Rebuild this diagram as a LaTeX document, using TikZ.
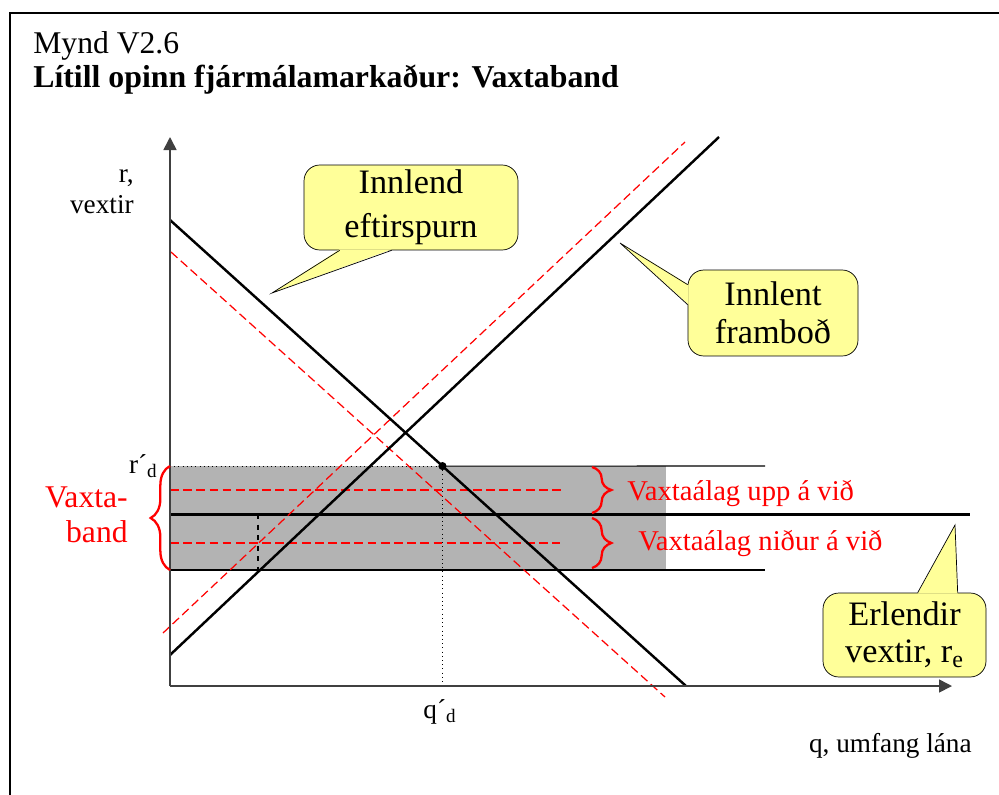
\documentclass[tikz,border=0pt]{standalone}
\usepackage{fontspec}
\setmainfont{Liberation Serif}
\usetikzlibrary{arrows.meta, positioning, calc, decorations.pathreplacing}
\definecolor{callfill}{RGB}{255,255,153}
\definecolor{axisgray}{RGB}{64,64,64}
\definecolor{bandgray}{RGB}{179,179,179}

\begin{document}
\begin{tikzpicture}[
  x=0.02cm, y=-0.02cm,
  axis/.style={draw=axisgray, line width=0.9pt, -{Triangle[length=7.4pt,width=7.4pt]}},
  curve/.style={line width=1.4pt},
  reddash/.style={red, line width=0.7pt, dash pattern=on 5pt off 2.5pt},
  callout/.style={draw, fill=callfill, rounded corners=9pt, align=center, inner sep=2pt},
  lbl/.style={font=\fontsize{15.5}{18}\selectfont, inner sep=0pt},
  redlbl/.style={red, font=\fontsize{16.3}{19}\selectfont, inner sep=0pt},
  redbrace/.style={red, line width=1.3pt, decorate, decoration={brace, amplitude=11pt}}
]
\useasboundingbox (0,0) rectangle (999,794);
\draw[line width=1.2pt] (10,830) |- (1030,13);

% titill
\node[anchor=base west, inner sep=0pt, font=\fontsize{18}{21}\selectfont] (fig) at (33,53) {Mynd V2.6};
\node[anchor=base west, inner sep=0pt, font=\fontsize{18.1}{21}\selectfont\bfseries] (title) at (33,88) {Lítill opinn fjármálamarkaður: Vaxtaband};

% vaxtaband
\coordinate (o) at (170,686);
\coordinate (dA) at (170,220);
\coordinate (dB) at (686,686);
\coordinate (eq) at ($(dA)!0.528!(dB)$);
\fill[bandgray] (170,466) rectangle (666,570);
\draw[line width=0.6pt] (eq) -- (765,466);
\draw[line width=0.6pt] (170,570) -- (765,570);
\draw[dotted] (o |- eq) -- (eq);
\draw[dotted] (eq) -- (eq |- o);
\draw[reddash] (170,490) -- (563,490);
\draw[reddash] (170,543) -- (560,543);
\draw[dashed, line width=0.6pt] (258,514) -- (258,570);
\draw[line width=1.7pt] (170,514) -- (970,514);

% eftirspurn og framboð
\draw[reddash] (171,252) -- (665,697);
\draw[reddash] (163,633) -- (685,142);
\draw[curve] (dA) -- (dB);
\draw[curve] (170,655) -- (719,137);
\fill (eq) circle (2.3pt);

% ásar
\draw[axis] (o) -- (170,137);
\draw[axis] (o) -- (952,686);
\node[lbl, anchor=base east] (rlab) at (134,182) {r,};
\node[lbl, anchor=base east] (vlab) at (134,213) {vextir};
\node[lbl, anchor=base east] (rd) at (158,473) {r´\textsubscript{d}};
\node[lbl, anchor=base] (qd) at (440,718) {q´\textsubscript{d}};
\node[lbl, anchor=base east] (qlab) at (972,752) {q, umfang lána};

% slaufur
\draw[redbrace] (170,570) -- (170,466);
\draw[redbrace] (592,467) -- (592,513);
\draw[redbrace] (592,518) -- (592,568);
\node[redlbl, font=\fontsize{18}{20}\selectfont, anchor=base east] (vb1) at (128,507) {Vaxta-};
\node[redlbl, font=\fontsize{18}{20}\selectfont, anchor=base east] (vb2) at (128,542) {band};
\node[redlbl, anchor=base west] (upp) at (627,500) {Vaxtaálag upp á við};
\node[redlbl, anchor=base west] (nidur) at (638,550) {Vaxtaálag niður á við};

% talblöðrur
\node[callout, font=\fontsize{19.5}{25}\selectfont, minimum width=4.28cm, minimum height=1.7cm] (eft) at (411,207.5) {Innlend\\eftirspurn};
\coordinate (eftTip) at (272,293);
\fill[callfill] ($(eft.south west)+(36,-1)$) -- (eftTip) -- ($(eft.south west)+(88,-1)$) -- cycle;
\draw ($(eft.south west)+(36,0)$) -- (eftTip) -- ($(eft.south west)+(88,0)$);

\node[callout, font=\fontsize{19.5}{21.5}\selectfont, minimum width=3.4cm, minimum height=1.72cm] (fram) at (773,313) {Innlent\\framboð};
\coordinate (framTip) at (620,243);
\fill[callfill] ($(fram.north west)+(1,15)$) -- (framTip) -- ($(fram.north west)+(1,35)$) -- cycle;
\draw ($(fram.north west)+(0,15)$) -- (framTip) -- ($(fram.north west)+(0,35)$);

\node[callout, font=\fontsize{19.5}{21}\selectfont, minimum width=3.26cm, minimum height=1.68cm] (erl) at (904.5,635) {Erlendir\\vextir, r\textsubscript{e}};
\coordinate (erlTip) at (955,525);
\fill[callfill] ($(erl.north west)+(95,1)$) -- (erlTip) -- ($(erl.north west)+(135,1)$) -- cycle;
\draw ($(erl.north west)+(95,0)$) -- (erlTip) -- ($(erl.north west)+(135,0)$);
\end{tikzpicture}
\end{document}
